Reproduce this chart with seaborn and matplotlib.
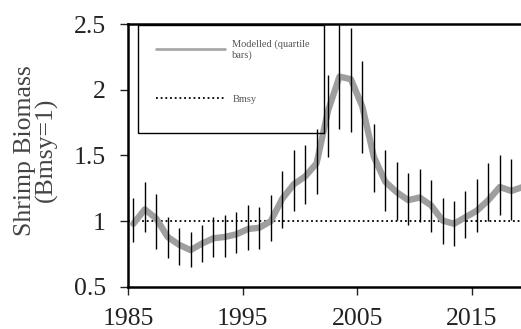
import numpy as np
import pandas as pd
import matplotlib
matplotlib.use("Agg")
import matplotlib.pyplot as plt
from matplotlib.lines import Line2D
from matplotlib.patches import Rectangle
import seaborn as sns

# data
years = list(range(1985, 2020))
biomass = [0.98, 1.09, 1.02, 0.88, 0.82, 0.78, 0.83, 0.87, 0.88, 0.90,
           0.94, 0.95, 1.00, 1.17, 1.28, 1.34, 1.44, 1.84, 2.10, 2.08,
           1.87, 1.49, 1.30, 1.22, 1.16, 1.18, 1.12, 1.005, 0.98, 1.03,
           1.08, 1.16, 1.26, 1.23, 1.26]
q_upper = [1.18, 1.30, 1.21, 1.03, 0.95, 0.92, 0.97, 1.03, 1.05, 1.07,
           1.12, 1.11, 1.20, 1.38, 1.54, 1.58, 1.70, 2.11, 2.49, 2.47,
           2.22, 1.74, 1.54, 1.45, 1.37, 1.40, 1.31, 1.18, 1.15, 1.23,
           1.32, 1.44, 1.50, 1.47, 1.45]
q_lower = [0.84, 0.92, 0.79, 0.72, 0.67, 0.65, 0.69, 0.73, 0.73, 0.76,
           0.78, 0.79, 0.85, 0.95, 1.08, 1.13, 1.21, 1.49, 1.70, 1.68,
           1.52, 1.22, 1.08, 1.01, 0.97, 0.99, 0.92, 0.83, 0.81, 0.87,
           0.92, 1.00, 1.05, 1.01, 1.05]
bmsy = 1.0
y_ticks = [0.5, 1, 1.5, 2, 2.5]
x_ticks = [1985, 1995, 2005, 2015]

df = pd.DataFrame({"year": years, "biomass": biomass,
                   "upper": q_upper, "lower": q_lower})
# points sit at mid-year on the category axis
df["x"] = df["year"] + 0.45

sns.set_style("ticks")
plt.rcParams["font.family"] = ["Liberation Serif", "DejaVu Serif"]

fig = plt.figure(figsize=(5.21, 3.29), dpi=100)
ax = fig.add_axes([0.246, 0.128, 0.754, 0.799])

sns.lineplot(data=df, x="x", y="biomass", ax=ax, color="#9e9e9e",
             linewidth=4.6, zorder=2, legend=False)
ax.vlines(df["x"], df["lower"], df["upper"], color="black",
          linewidth=1.0, zorder=3)
ax.axhline(bmsy, color="black", linestyle=(0, (1, 1.6)), linewidth=1.3,
           zorder=1)

ax.set_xlim(1985, 2019.3)
ax.set_ylim(0.5, 2.5)
ax.set_xticks(x_ticks)
ax.set_xticklabels([str(t) for t in x_ticks])
ax.set_yticks(y_ticks)
ax.set_yticklabels(["%g" % t for t in y_ticks])
ax.tick_params(axis="both", labelsize=18.5, colors="#222222", length=6,
               width=1.0, direction="out")
ax.tick_params(axis="x", pad=9)
ax.tick_params(axis="y", pad=10)
ax.set_xlabel("")
ax.set_ylabel("Shrimp Biomass\n(Bmsy=1)", fontsize=18.5, color="#444444",
              linespacing=0.95)
ax.yaxis.set_label_coords(-0.178, 0.52)

for side in ["left", "bottom", "top"]:
    ax.spines[side].set_linewidth(1.8)
    ax.spines[side].set_color("black")
ax.spines["right"].set_visible(False)

# legend box drawn separately so it can be taller than its entries
ax.add_patch(Rectangle((0.025, 0.587), 0.474, 0.409, transform=ax.transAxes,
                       fill=False, edgecolor="black", linewidth=1.0,
                       zorder=4, clip_on=False))
handles = [Line2D([], [], color="#a8a8a8", linewidth=2.0),
           Line2D([], [], color="black", linestyle=(0, (1, 1.6)), linewidth=1.3)]
leg = ax.legend(handles, ["Modelled (quartile\nbars)", "Bmsy"],
                loc="upper left", bbox_to_anchor=(0.07, 0.942),
                fontsize=7.5, frameon=False, borderpad=0,
                handlelength=6.7, handletextpad=0.67, labelspacing=3.35,
                borderaxespad=0)
for t in leg.get_texts():
    t.set_color("#555555")

fig.savefig("out.png", dpi=100)
